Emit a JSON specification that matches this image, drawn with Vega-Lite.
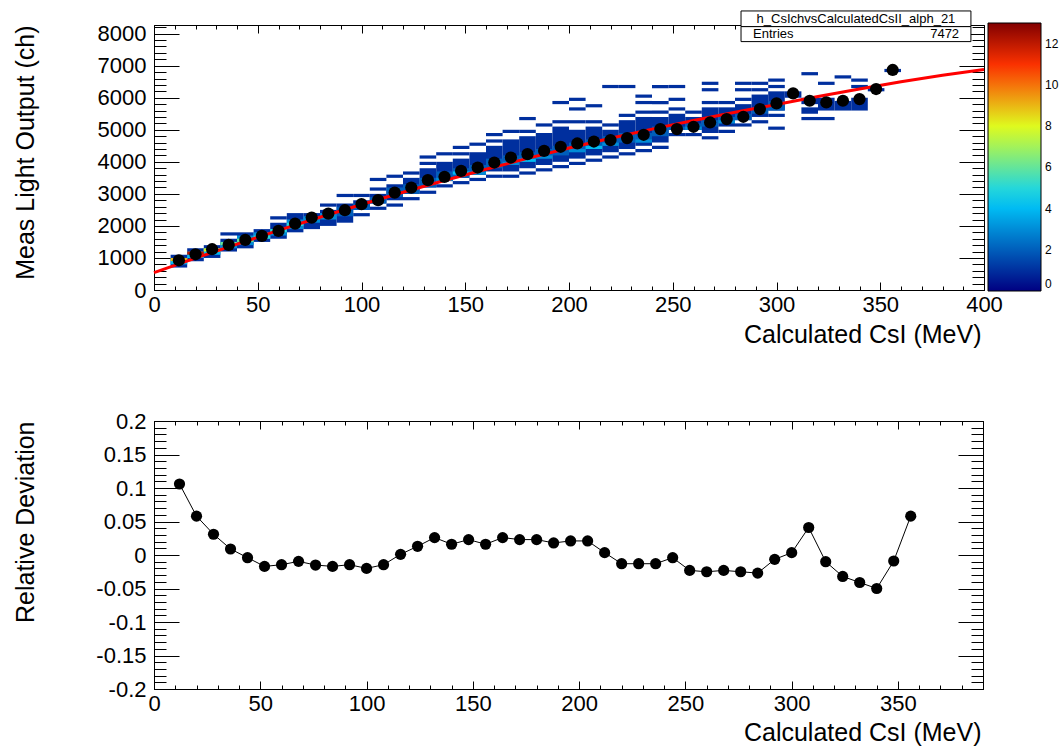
{
"$schema": "https://vega.github.io/schema/vega-lite/v6.json",
"background": "white",
"padding": {"left": 12, "top": 9, "right": 0, "bottom": 2},
"bounds": "flush",
"spacing": 131,
"config": {
  "font": "Liberation Sans",
  "view": {"stroke": "black", "strokeWidth": 1},
  "axis": {"domain": false, "grid": false, "labelFont": "Liberation Sans", "labelFontSize": 22, "labelColor": "black", "titleFont": "Liberation Sans", "titleFontSize": 25, "titleFontWeight": "normal", "titleColor": "black", "tickColor": "black", "tickWidth": 1, "labelFlush": false, "labelOverlap": false}
},
"datasets": {
  "hist": [
    {"x":8,"x2":16,"y":700,"y2":1100,"n":1},
    {"x":16,"x2":24,"y":900,"y2":1300,"n":1},
    {"x":24,"x2":32,"y":1000,"y2":1400,"n":1},
    {"x":32,"x2":40,"y":1200,"y2":1600,"n":1},
    {"x":32,"x2":40,"y":1700,"y2":1800,"n":1},
    {"x":40,"x2":48,"y":1300,"y2":1800,"n":1},
    {"x":48,"x2":56,"y":1500,"y2":1900,"n":1},
    {"x":56,"x2":64,"y":1600,"y2":2100,"n":1},
    {"x":56,"x2":64,"y":2200,"y2":2300,"n":1},
    {"x":64,"x2":72,"y":1800,"y2":2400,"n":1},
    {"x":72,"x2":80,"y":1900,"y2":2400,"n":1},
    {"x":80,"x2":88,"y":2000,"y2":2500,"n":1},
    {"x":80,"x2":88,"y":2600,"y2":2700,"n":1},
    {"x":88,"x2":96,"y":2100,"y2":2700,"n":1},
    {"x":88,"x2":96,"y":2900,"y2":3000,"n":1},
    {"x":96,"x2":104,"y":2300,"y2":2400,"n":1},
    {"x":96,"x2":104,"y":2500,"y2":2800,"n":1},
    {"x":96,"x2":104,"y":2900,"y2":3000,"n":1},
    {"x":104,"x2":112,"y":2500,"y2":2600,"n":1},
    {"x":104,"x2":112,"y":2700,"y2":3000,"n":1},
    {"x":104,"x2":112,"y":3100,"y2":3200,"n":1},
    {"x":104,"x2":112,"y":3400,"y2":3500,"n":1},
    {"x":112,"x2":120,"y":2600,"y2":2700,"n":1},
    {"x":112,"x2":120,"y":2800,"y2":3300,"n":1},
    {"x":112,"x2":120,"y":3500,"y2":3600,"n":1},
    {"x":120,"x2":128,"y":2800,"y2":2900,"n":1},
    {"x":120,"x2":128,"y":3000,"y2":3500,"n":1},
    {"x":120,"x2":128,"y":3600,"y2":3700,"n":1},
    {"x":128,"x2":136,"y":3000,"y2":3100,"n":1},
    {"x":128,"x2":136,"y":3200,"y2":3800,"n":1},
    {"x":128,"x2":136,"y":3900,"y2":4000,"n":1},
    {"x":128,"x2":136,"y":4100,"y2":4200,"n":1},
    {"x":136,"x2":144,"y":3200,"y2":3300,"n":1},
    {"x":136,"x2":144,"y":3400,"y2":4000,"n":1},
    {"x":136,"x2":144,"y":4200,"y2":4300,"n":1},
    {"x":144,"x2":152,"y":3300,"y2":3400,"n":1},
    {"x":144,"x2":152,"y":3500,"y2":4100,"n":1},
    {"x":144,"x2":152,"y":4200,"y2":4300,"n":1},
    {"x":144,"x2":152,"y":4400,"y2":4500,"n":1},
    {"x":152,"x2":160,"y":3400,"y2":3500,"n":1},
    {"x":152,"x2":160,"y":3600,"y2":4300,"n":1},
    {"x":152,"x2":160,"y":4500,"y2":4600,"n":1},
    {"x":160,"x2":168,"y":3500,"y2":3600,"n":1},
    {"x":160,"x2":168,"y":3700,"y2":4500,"n":1},
    {"x":160,"x2":168,"y":4600,"y2":4700,"n":1},
    {"x":160,"x2":168,"y":4800,"y2":4900,"n":1},
    {"x":168,"x2":176,"y":3500,"y2":3600,"n":1},
    {"x":168,"x2":176,"y":3700,"y2":4700,"n":1},
    {"x":168,"x2":176,"y":4900,"y2":5000,"n":1},
    {"x":176,"x2":184,"y":3600,"y2":3700,"n":1},
    {"x":176,"x2":184,"y":3800,"y2":4800,"n":1},
    {"x":176,"x2":184,"y":4900,"y2":5000,"n":1},
    {"x":176,"x2":184,"y":5300,"y2":5400,"n":1},
    {"x":184,"x2":192,"y":3700,"y2":3800,"n":1},
    {"x":184,"x2":192,"y":3900,"y2":4900,"n":1},
    {"x":184,"x2":192,"y":5100,"y2":5200,"n":1},
    {"x":192,"x2":200,"y":3800,"y2":3900,"n":1},
    {"x":192,"x2":200,"y":4000,"y2":5100,"n":1},
    {"x":192,"x2":200,"y":5200,"y2":5300,"n":1},
    {"x":192,"x2":200,"y":5800,"y2":5900,"n":1},
    {"x":200,"x2":208,"y":3900,"y2":4000,"n":1},
    {"x":200,"x2":208,"y":4100,"y2":5000,"n":1},
    {"x":200,"x2":208,"y":5200,"y2":5300,"n":1},
    {"x":200,"x2":208,"y":5600,"y2":5700,"n":1},
    {"x":200,"x2":208,"y":5900,"y2":6000,"n":1},
    {"x":208,"x2":216,"y":4000,"y2":4100,"n":1},
    {"x":208,"x2":216,"y":4200,"y2":5100,"n":1},
    {"x":208,"x2":216,"y":5200,"y2":5300,"n":1},
    {"x":208,"x2":216,"y":5700,"y2":5800,"n":1},
    {"x":216,"x2":224,"y":4100,"y2":4200,"n":1},
    {"x":216,"x2":224,"y":4300,"y2":5000,"n":1},
    {"x":216,"x2":224,"y":5100,"y2":5200,"n":1},
    {"x":216,"x2":224,"y":6300,"y2":6400,"n":1},
    {"x":224,"x2":232,"y":4200,"y2":4300,"n":1},
    {"x":224,"x2":232,"y":4400,"y2":5300,"n":1},
    {"x":224,"x2":232,"y":5400,"y2":5500,"n":1},
    {"x":224,"x2":232,"y":6300,"y2":6400,"n":1},
    {"x":232,"x2":240,"y":4300,"y2":4400,"n":1},
    {"x":232,"x2":240,"y":4500,"y2":5400,"n":1},
    {"x":232,"x2":240,"y":5500,"y2":5600,"n":1},
    {"x":232,"x2":240,"y":5800,"y2":5900,"n":1},
    {"x":232,"x2":240,"y":6000,"y2":6100,"n":1},
    {"x":240,"x2":248,"y":4400,"y2":4500,"n":1},
    {"x":240,"x2":248,"y":4600,"y2":5400,"n":1},
    {"x":240,"x2":248,"y":5500,"y2":5600,"n":1},
    {"x":240,"x2":248,"y":5800,"y2":5900,"n":1},
    {"x":240,"x2":248,"y":6300,"y2":6400,"n":1},
    {"x":248,"x2":256,"y":4800,"y2":4900,"n":1},
    {"x":248,"x2":256,"y":5000,"y2":5500,"n":1},
    {"x":248,"x2":256,"y":5600,"y2":5700,"n":1},
    {"x":248,"x2":256,"y":5900,"y2":6000,"n":1},
    {"x":248,"x2":256,"y":6300,"y2":6400,"n":1},
    {"x":256,"x2":264,"y":4800,"y2":4900,"n":1},
    {"x":256,"x2":264,"y":5000,"y2":5400,"n":1},
    {"x":256,"x2":264,"y":5500,"y2":5600,"n":1},
    {"x":264,"x2":272,"y":4700,"y2":4800,"n":1},
    {"x":264,"x2":272,"y":4900,"y2":5700,"n":1},
    {"x":264,"x2":272,"y":5800,"y2":5900,"n":1},
    {"x":264,"x2":272,"y":6200,"y2":6300,"n":1},
    {"x":264,"x2":272,"y":6400,"y2":6500,"n":1},
    {"x":272,"x2":280,"y":4900,"y2":5000,"n":1},
    {"x":272,"x2":280,"y":5100,"y2":5700,"n":1},
    {"x":272,"x2":280,"y":5800,"y2":5900,"n":1},
    {"x":280,"x2":288,"y":5100,"y2":5200,"n":1},
    {"x":280,"x2":288,"y":5300,"y2":5800,"n":1},
    {"x":280,"x2":288,"y":5900,"y2":6000,"n":1},
    {"x":280,"x2":288,"y":6200,"y2":6300,"n":1},
    {"x":280,"x2":288,"y":6400,"y2":6500,"n":1},
    {"x":288,"x2":296,"y":5200,"y2":5300,"n":1},
    {"x":288,"x2":296,"y":5400,"y2":6100,"n":1},
    {"x":288,"x2":296,"y":6200,"y2":6300,"n":1},
    {"x":288,"x2":296,"y":6400,"y2":6500,"n":1},
    {"x":296,"x2":304,"y":5000,"y2":5100,"n":1},
    {"x":296,"x2":304,"y":5400,"y2":5500,"n":1},
    {"x":296,"x2":304,"y":5600,"y2":6200,"n":1},
    {"x":296,"x2":304,"y":6300,"y2":6400,"n":1},
    {"x":296,"x2":304,"y":6500,"y2":6600,"n":1},
    {"x":304,"x2":312,"y":6000,"y2":6200,"n":1},
    {"x":312,"x2":320,"y":5300,"y2":5400,"n":1},
    {"x":312,"x2":320,"y":5500,"y2":5700,"n":1},
    {"x":312,"x2":320,"y":5800,"y2":6000,"n":1},
    {"x":312,"x2":320,"y":6700,"y2":6800,"n":1},
    {"x":320,"x2":328,"y":5300,"y2":5400,"n":1},
    {"x":320,"x2":328,"y":5600,"y2":6000,"n":1},
    {"x":320,"x2":328,"y":6400,"y2":6500,"n":1},
    {"x":328,"x2":336,"y":5600,"y2":5900,"n":1},
    {"x":328,"x2":336,"y":6600,"y2":6700,"n":1},
    {"x":336,"x2":344,"y":5600,"y2":6000,"n":1},
    {"x":336,"x2":344,"y":6300,"y2":6400,"n":1},
    {"x":336,"x2":344,"y":6500,"y2":6600,"n":1},
    {"x":344,"x2":352,"y":6200,"y2":6300,"n":1},
    {"x":352,"x2":360,"y":6800,"y2":6900,"n":1},
    {"x":88,"x2":96,"y":2300,"y2":2600,"n":2},
    {"x":96,"x2":104,"y":2500,"y2":2700,"n":2},
    {"x":104,"x2":112,"y":2700,"y2":2900,"n":2},
    {"x":112,"x2":120,"y":2900,"y2":3200,"n":2},
    {"x":120,"x2":128,"y":3000,"y2":3300,"n":2},
    {"x":128,"x2":136,"y":3200,"y2":3500,"n":2},
    {"x":136,"x2":144,"y":3400,"y2":3700,"n":2},
    {"x":144,"x2":152,"y":3500,"y2":3800,"n":2},
    {"x":152,"x2":160,"y":3600,"y2":3900,"n":2},
    {"x":160,"x2":168,"y":3800,"y2":4100,"n":2},
    {"x":168,"x2":176,"y":3900,"y2":4200,"n":2},
    {"x":176,"x2":184,"y":4000,"y2":4300,"n":2},
    {"x":184,"x2":192,"y":4100,"y2":4400,"n":2},
    {"x":192,"x2":200,"y":4200,"y2":4500,"n":2},
    {"x":200,"x2":208,"y":4300,"y2":4600,"n":2},
    {"x":208,"x2":216,"y":4400,"y2":4700,"n":2},
    {"x":216,"x2":224,"y":4500,"y2":4800,"n":2},
    {"x":224,"x2":232,"y":4600,"y2":4900,"n":2},
    {"x":232,"x2":240,"y":4600,"y2":4900,"n":2},
    {"x":240,"x2":248,"y":4800,"y2":5100,"n":2},
    {"x":248,"x2":256,"y":5000,"y2":5100,"n":2},
    {"x":256,"x2":264,"y":5000,"y2":5200,"n":2},
    {"x":264,"x2":272,"y":5100,"y2":5300,"n":2},
    {"x":272,"x2":280,"y":5200,"y2":5400,"n":2},
    {"x":280,"x2":288,"y":5300,"y2":5500,"n":2},
    {"x":288,"x2":296,"y":5500,"y2":5700,"n":2},
    {"x":296,"x2":304,"y":5600,"y2":5900,"n":2},
    {"x":32,"x2":40,"y":1300,"y2":1500,"n":3},
    {"x":40,"x2":48,"y":1400,"y2":1700,"n":3},
    {"x":48,"x2":56,"y":1600,"y2":1800,"n":3},
    {"x":56,"x2":64,"y":1700,"y2":1900,"n":3},
    {"x":64,"x2":72,"y":1900,"y2":2200,"n":3},
    {"x":72,"x2":80,"y":2100,"y2":2300,"n":3},
    {"x":80,"x2":88,"y":2200,"y2":2400,"n":3},
    {"x":136,"x2":144,"y":3400,"y2":3500,"n":3},
    {"x":152,"x2":160,"y":3600,"y2":3700,"n":3},
    {"x":168,"x2":176,"y":3900,"y2":4000,"n":3},
    {"x":184,"x2":192,"y":4100,"y2":4200,"n":3},
    {"x":200,"x2":208,"y":4300,"y2":4400,"n":3},
    {"x":216,"x2":224,"y":4500,"y2":4600,"n":3},
    {"x":232,"x2":240,"y":4600,"y2":4700,"n":3},
    {"x":256,"x2":264,"y":5000,"y2":5100,"n":3},
    {"x":272,"x2":280,"y":5200,"y2":5300,"n":3},
    {"x":8,"x2":16,"y":800,"y2":1000,"n":4},
    {"x":16,"x2":24,"y":1000,"y2":1200,"n":4},
    {"x":24,"x2":32,"y":1100,"y2":1300,"n":4},
    {"x":144,"x2":152,"y":3600,"y2":3700,"n":4},
    {"x":176,"x2":184,"y":4000,"y2":4100,"n":4},
    {"x":208,"x2":216,"y":4400,"y2":4500,"n":4},
    {"x":48,"x2":56,"y":1600,"y2":1700,"n":5},
    {"x":56,"x2":64,"y":1800,"y2":1900,"n":5},
    {"x":64,"x2":72,"y":2000,"y2":2100,"n":5},
    {"x":32,"x2":40,"y":1400,"y2":1500,"n":6},
    {"x":40,"x2":48,"y":1500,"y2":1600,"n":6},
    {"x":24,"x2":32,"y":1200,"y2":1300,"n":8},
    {"x":8,"x2":16,"y":900,"y2":1000,"n":9},
    {"x":16,"x2":24,"y":1100,"y2":1200,"n":12}
  ],
  "fit": [
    {"x":0,"v":540},{"x":20,"v":994},{"x":40,"v":1434},{"x":60,"v":1860},{"x":80,"v":2270},{"x":100,"v":2667},{"x":120,"v":3049},{"x":140,"v":3416},{"x":160,"v":3769},{"x":180,"v":4107},{"x":200,"v":4430},{"x":220,"v":4735},{"x":240,"v":5020},{"x":260,"v":5290},{"x":280,"v":5545},{"x":300,"v":5790},{"x":320,"v":6040},{"x":340,"v":6272},{"x":360,"v":6500},{"x":380,"v":6700},{"x":400,"v":6880}
  ],
  "prof": [
    {"x":12,"v":928},{"x":20,"v":1115},{"x":28,"v":1272},{"x":36,"v":1406},{"x":44,"v":1562},{"x":52,"v":1688},{"x":60,"v":1844},{"x":68,"v":2072},{"x":76,"v":2260},{"x":84,"v":2385},{"x":92,"v":2490},{"x":100,"v":2678},{"x":108,"v":2803},{"x":116,"v":3040},{"x":124,"v":3197},{"x":132,"v":3428},{"x":140,"v":3531},{"x":148,"v":3719},{"x":156,"v":3822},{"x":164,"v":3978},{"x":172,"v":4134},{"x":180,"v":4240},{"x":188,"v":4343},{"x":196,"v":4470},{"x":204,"v":4572},{"x":212,"v":4634},{"x":220,"v":4678},{"x":228,"v":4740},{"x":236,"v":4844},{"x":244,"v":5022},{"x":252,"v":5022},{"x":260,"v":5094},{"x":268,"v":5228},{"x":276,"v":5334},{"x":284,"v":5406},{"x":292,"v":5647},{"x":300,"v":5822},{"x":308,"v":6134},{"x":316,"v":5906},{"x":324,"v":5853},{"x":332,"v":5906},{"x":340,"v":5959},{"x":348,"v":6272},{"x":356,"v":6866}
  ],
  "dev": [
    {"x":12,"d":0.106},{"x":20,"d":0.058},{"x":28,"d":0.031},{"x":36,"d":0.009},{"x":44,"d":-0.004},{"x":52,"d":-0.017},{"x":60,"d":-0.0145},{"x":68,"d":-0.0095},{"x":76,"d":-0.015},{"x":84,"d":-0.017},{"x":92,"d":-0.0145},{"x":100,"d":-0.02},{"x":108,"d":-0.0145},{"x":116,"d":0.001},{"x":124,"d":0.013},{"x":132,"d":0.026},{"x":140,"d":0.016},{"x":148,"d":0.023},{"x":156,"d":0.016},{"x":164,"d":0.026},{"x":172,"d":0.023},{"x":180,"d":0.023},{"x":188,"d":0.018},{"x":196,"d":0.021},{"x":204,"d":0.021},{"x":212,"d":0.0035},{"x":220,"d":-0.013},{"x":228,"d":-0.013},{"x":236,"d":-0.013},{"x":244,"d":-0.004},{"x":252,"d":-0.023},{"x":260,"d":-0.025},{"x":268,"d":-0.023},{"x":276,"d":-0.025},{"x":284,"d":-0.027},{"x":292,"d":-0.0065},{"x":300,"d":0.0035},{"x":308,"d":0.041},{"x":316,"d":-0.01},{"x":324,"d":-0.032},{"x":332,"d":-0.041},{"x":340,"d":-0.05},{"x":348,"d":-0.009},{"x":356,"d":0.058}
  ],
  "stat": [
    {"x":282.9,"x2":393.7,"y":8219,"y2":8708},
    {"x":282.9,"x2":393.7,"y":7752,"y2":8219}
  ],
  "stxt": [
    {"k":"name","x":338.3,"y":8468,"t":"h_CsIchvsCalculatedCsII_alph_21"},
    {"k":"label","x":288.7,"y":7986,"t":"Entries"},
    {"k":"value","x":388,"y":7986,"t":"7472"}
  ]
},
"vconcat": [
  {
    "width": 830, "height": 265,
    "resolve": {"axis": {"x": "independent", "y": "independent"}},
    "layer": [
      {
        "data": {"name": "hist"},
        "mark": {"type": "rect"},
        "encoding": {
          "x": {"field": "x", "type": "quantitative", "scale": {"domain": [0, 400], "nice": false, "zero": false},
                "axis": {"orient": "bottom", "values": [0,50,100,150,200,250,300,350,400], "tickSize": -8, "labelPadding": 12, "labelExpr": "toString(datum.value)", "title": "Calculated CsI (MeV)", "titleX": 827, "titleY": 44, "titleAlign": "right", "titleBaseline": "middle"}},
          "x2": {"field": "x2"},
          "y": {"field": "y", "type": "quantitative", "scale": {"domain": [0, 8270], "nice": false, "zero": false},
                "axis": {"orient": "left", "values": [0,1000,2000,3000,4000,5000,6000,7000,8000], "tickSize": -25, "labelPadding": 33, "labelExpr": "toString(datum.value)", "title": "Meas Light Output (ch)", "titleX": -129, "titleY": 0, "titleAlign": "right", "titleAngle": 270, "titleBaseline": "middle"}},
          "y2": {"field": "y2"},
          "color": {"field": "n", "type": "quantitative",
                    "scale": {"type": "linear", "domain": [0, 4.42, 7.93, 10.92, 13], "range": ["#000082", "#00cfff", "#deff1f", "#ff3300", "#820000"], "interpolate": "rgb"},
                    "legend": {"orient": "none", "legendX": 834, "legendY": -2, "direction": "vertical", "gradientLength": 268, "gradientThickness": 53, "title": null, "values": [0,2,4,6,8,10,12], "labelFontSize": 12, "labelFont": "Liberation Sans", "labelColor": "black", "labelOffset": 4, "gradientStrokeColor": "black", "gradientStrokeWidth": 1}}
        }
      },
      {
        "data": {"name": "fit"},
        "mark": {"type": "line", "color": "#ff0000", "strokeWidth": 3},
        "encoding": {
          "x": {"field": "x", "type": "quantitative", "scale": {"domain": [0, 400], "nice": false, "zero": false},
                "axis": {"orient": "bottom", "values": [0,10,20,30,40,50,60,70,80,90,100,110,120,130,140,150,160,170,180,190,200,210,220,230,240,250,260,270,280,290,300,310,320,330,340,350,360,370,380,390,400], "tickSize": -4, "labels": false, "title": null}},
          "y": {"field": "v", "type": "quantitative", "scale": {"domain": [0, 8270], "nice": false, "zero": false},
                "axis": {"orient": "left", "values": [0,200,400,600,800,1000,1200,1400,1600,1800,2000,2200,2400,2600,2800,3000,3200,3400,3600,3800,4000,4200,4400,4600,4800,5000,5200,5400,5600,5800,6000,6200,6400,6600,6800,7000,7200,7400,7600,7800,8000,8200], "tickSize": -12, "labels": false, "title": null}}
        }
      },
      {
        "data": {"name": "prof"},
        "mark": {"type": "point", "filled": true, "shape": "circle", "size": 150, "color": "black", "opacity": 1},
        "encoding": {
          "x": {"field": "x", "type": "quantitative", "scale": {"domain": [0, 400], "nice": false, "zero": false},
                "axis": {"orient": "top", "values": [0,50,100,150,200,250,300,350,400], "tickSize": -8, "labels": false, "title": null}},
          "y": {"field": "v", "type": "quantitative", "scale": {"domain": [0, 8270], "nice": false, "zero": false},
                "axis": {"orient": "right", "values": [0,1000,2000,3000,4000,5000,6000,7000,8000], "tickSize": -25, "labels": false, "title": null}}
        }
      },
      {
        "data": {"name": "prof"},
        "mark": {"type": "point", "opacity": 0},
        "encoding": {
          "x": {"field": "x", "type": "quantitative", "scale": {"domain": [0, 400], "nice": false, "zero": false},
                "axis": {"orient": "top", "values": [0,10,20,30,40,50,60,70,80,90,100,110,120,130,140,150,160,170,180,190,200,210,220,230,240,250,260,270,280,290,300,310,320,330,340,350,360,370,380,390,400], "tickSize": -4, "labels": false, "title": null}},
          "y": {"field": "v", "type": "quantitative", "scale": {"domain": [0, 8270], "nice": false, "zero": false},
                "axis": {"orient": "right", "values": [0,200,400,600,800,1000,1200,1400,1600,1800,2000,2200,2400,2600,2800,3000,3200,3400,3600,3800,4000,4200,4400,4600,4800,5000,5200,5400,5600,5800,6000,6200,6400,6600,6800,7000,7200,7400,7600,7800,8000,8200], "tickSize": -12, "labels": false, "title": null}}
        }
      },
      {
        "data": {"name": "stat"},
        "mark": {"type": "rect", "fill": "white", "stroke": "black", "strokeWidth": 1},
        "encoding": {
          "x": {"field": "x", "type": "quantitative", "scale": {"domain": [0, 400], "nice": false, "zero": false}, "axis": null},
          "x2": {"field": "x2"},
          "y": {"field": "y", "type": "quantitative", "scale": {"domain": [0, 8270], "nice": false, "zero": false}, "axis": null},
          "y2": {"field": "y2"}
        }
      },
      {
        "data": {"name": "stxt"},
        "transform": [{"filter": "datum.k == 'name'"}],
        "mark": {"type": "text", "align": "center", "baseline": "middle", "fontSize": 13, "font": "Liberation Sans", "color": "black"},
        "encoding": {
          "x": {"field": "x", "type": "quantitative", "scale": {"domain": [0, 400], "nice": false, "zero": false}, "axis": null},
          "y": {"field": "y", "type": "quantitative", "scale": {"domain": [0, 8270], "nice": false, "zero": false}, "axis": null},
          "text": {"field": "t"}
        }
      },
      {
        "data": {"name": "stxt"},
        "transform": [{"filter": "datum.k == 'label'"}],
        "mark": {"type": "text", "align": "left", "baseline": "middle", "fontSize": 13, "font": "Liberation Sans", "color": "black"},
        "encoding": {
          "x": {"field": "x", "type": "quantitative", "scale": {"domain": [0, 400], "nice": false, "zero": false}, "axis": null},
          "y": {"field": "y", "type": "quantitative", "scale": {"domain": [0, 8270], "nice": false, "zero": false}, "axis": null},
          "text": {"field": "t"}
        }
      },
      {
        "data": {"name": "stxt"},
        "transform": [{"filter": "datum.k == 'value'"}],
        "mark": {"type": "text", "align": "right", "baseline": "middle", "fontSize": 13, "font": "Liberation Sans", "color": "black"},
        "encoding": {
          "x": {"field": "x", "type": "quantitative", "scale": {"domain": [0, 400], "nice": false, "zero": false}, "axis": null},
          "y": {"field": "y", "type": "quantitative", "scale": {"domain": [0, 8270], "nice": false, "zero": false}, "axis": null},
          "text": {"field": "t"}
        }
      }
    ]
  },
  {
    "width": 829, "height": 268,
    "resolve": {"axis": {"x": "independent", "y": "independent"}},
    "layer": [
      {
        "data": {"name": "dev"},
        "mark": {"type": "line", "color": "black", "strokeWidth": 1},
        "encoding": {
          "x": {"field": "x", "type": "quantitative", "scale": {"domain": [0, 390], "nice": false, "zero": false},
                "axis": {"orient": "bottom", "values": [0,50,100,150,200,250,300,350], "tickSize": -8, "labelPadding": 12, "labelExpr": "toString(datum.value)", "title": "Calculated CsI (MeV)", "titleX": 827, "titleY": 43, "titleAlign": "right", "titleBaseline": "middle"}},
          "y": {"field": "d", "type": "quantitative", "scale": {"domain": [-0.2, 0.2], "nice": false, "zero": false},
                "axis": {"orient": "left", "values": [-0.2,-0.15,-0.1,-0.05,0,0.05,0.1,0.15,0.2], "tickSize": -25, "labelPadding": 33, "labelExpr": "toString(datum.value)", "title": "Relative Deviation", "titleX": -129, "titleY": 0, "titleAlign": "right", "titleAngle": 270, "titleBaseline": "middle"}}
        }
      },
      {
        "data": {"name": "dev"},
        "mark": {"type": "point", "filled": true, "shape": "circle", "size": 125, "color": "black", "opacity": 1},
        "encoding": {
          "x": {"field": "x", "type": "quantitative", "scale": {"domain": [0, 390], "nice": false, "zero": false},
                "axis": {"orient": "bottom", "values": [0,10,20,30,40,50,60,70,80,90,100,110,120,130,140,150,160,170,180,190,200,210,220,230,240,250,260,270,280,290,300,310,320,330,340,350,360,370,380,390], "tickSize": -4, "labels": false, "title": null}},
          "y": {"field": "d", "type": "quantitative", "scale": {"domain": [-0.2, 0.2], "nice": false, "zero": false},
                "axis": {"orient": "left", "values": [-0.2,-0.19,-0.18,-0.17,-0.16,-0.15,-0.14,-0.13,-0.12,-0.11,-0.1,-0.09,-0.08,-0.07,-0.06,-0.05,-0.04,-0.03,-0.02,-0.01,0,0.01,0.02,0.03,0.04,0.05,0.06,0.07,0.08,0.09,0.1,0.11,0.12,0.13,0.14,0.15,0.16,0.17,0.18,0.19,0.2], "tickSize": -12, "labels": false, "title": null}}
        }
      },
      {
        "data": {"name": "dev"},
        "mark": {"type": "point", "opacity": 0},
        "encoding": {
          "x": {"field": "x", "type": "quantitative", "scale": {"domain": [0, 390], "nice": false, "zero": false},
                "axis": {"orient": "top", "values": [0,50,100,150,200,250,300,350], "tickSize": -8, "labels": false, "title": null}},
          "y": {"field": "d", "type": "quantitative", "scale": {"domain": [-0.2, 0.2], "nice": false, "zero": false},
                "axis": {"orient": "right", "values": [-0.2,-0.15,-0.1,-0.05,0,0.05,0.1,0.15,0.2], "tickSize": -25, "labels": false, "title": null}}
        }
      },
      {
        "data": {"name": "dev"},
        "mark": {"type": "point", "opacity": 0},
        "encoding": {
          "x": {"field": "x", "type": "quantitative", "scale": {"domain": [0, 390], "nice": false, "zero": false},
                "axis": {"orient": "top", "values": [0,10,20,30,40,50,60,70,80,90,100,110,120,130,140,150,160,170,180,190,200,210,220,230,240,250,260,270,280,290,300,310,320,330,340,350,360,370,380,390], "tickSize": -4, "labels": false, "title": null}},
          "y": {"field": "d", "type": "quantitative", "scale": {"domain": [-0.2, 0.2], "nice": false, "zero": false},
                "axis": {"orient": "right", "values": [-0.2,-0.19,-0.18,-0.17,-0.16,-0.15,-0.14,-0.13,-0.12,-0.11,-0.1,-0.09,-0.08,-0.07,-0.06,-0.05,-0.04,-0.03,-0.02,-0.01,0,0.01,0.02,0.03,0.04,0.05,0.06,0.07,0.08,0.09,0.1,0.11,0.12,0.13,0.14,0.15,0.16,0.17,0.18,0.19,0.2], "tickSize": -12, "labels": false, "title": null}}
        }
      }
    ]
  }
]
}
